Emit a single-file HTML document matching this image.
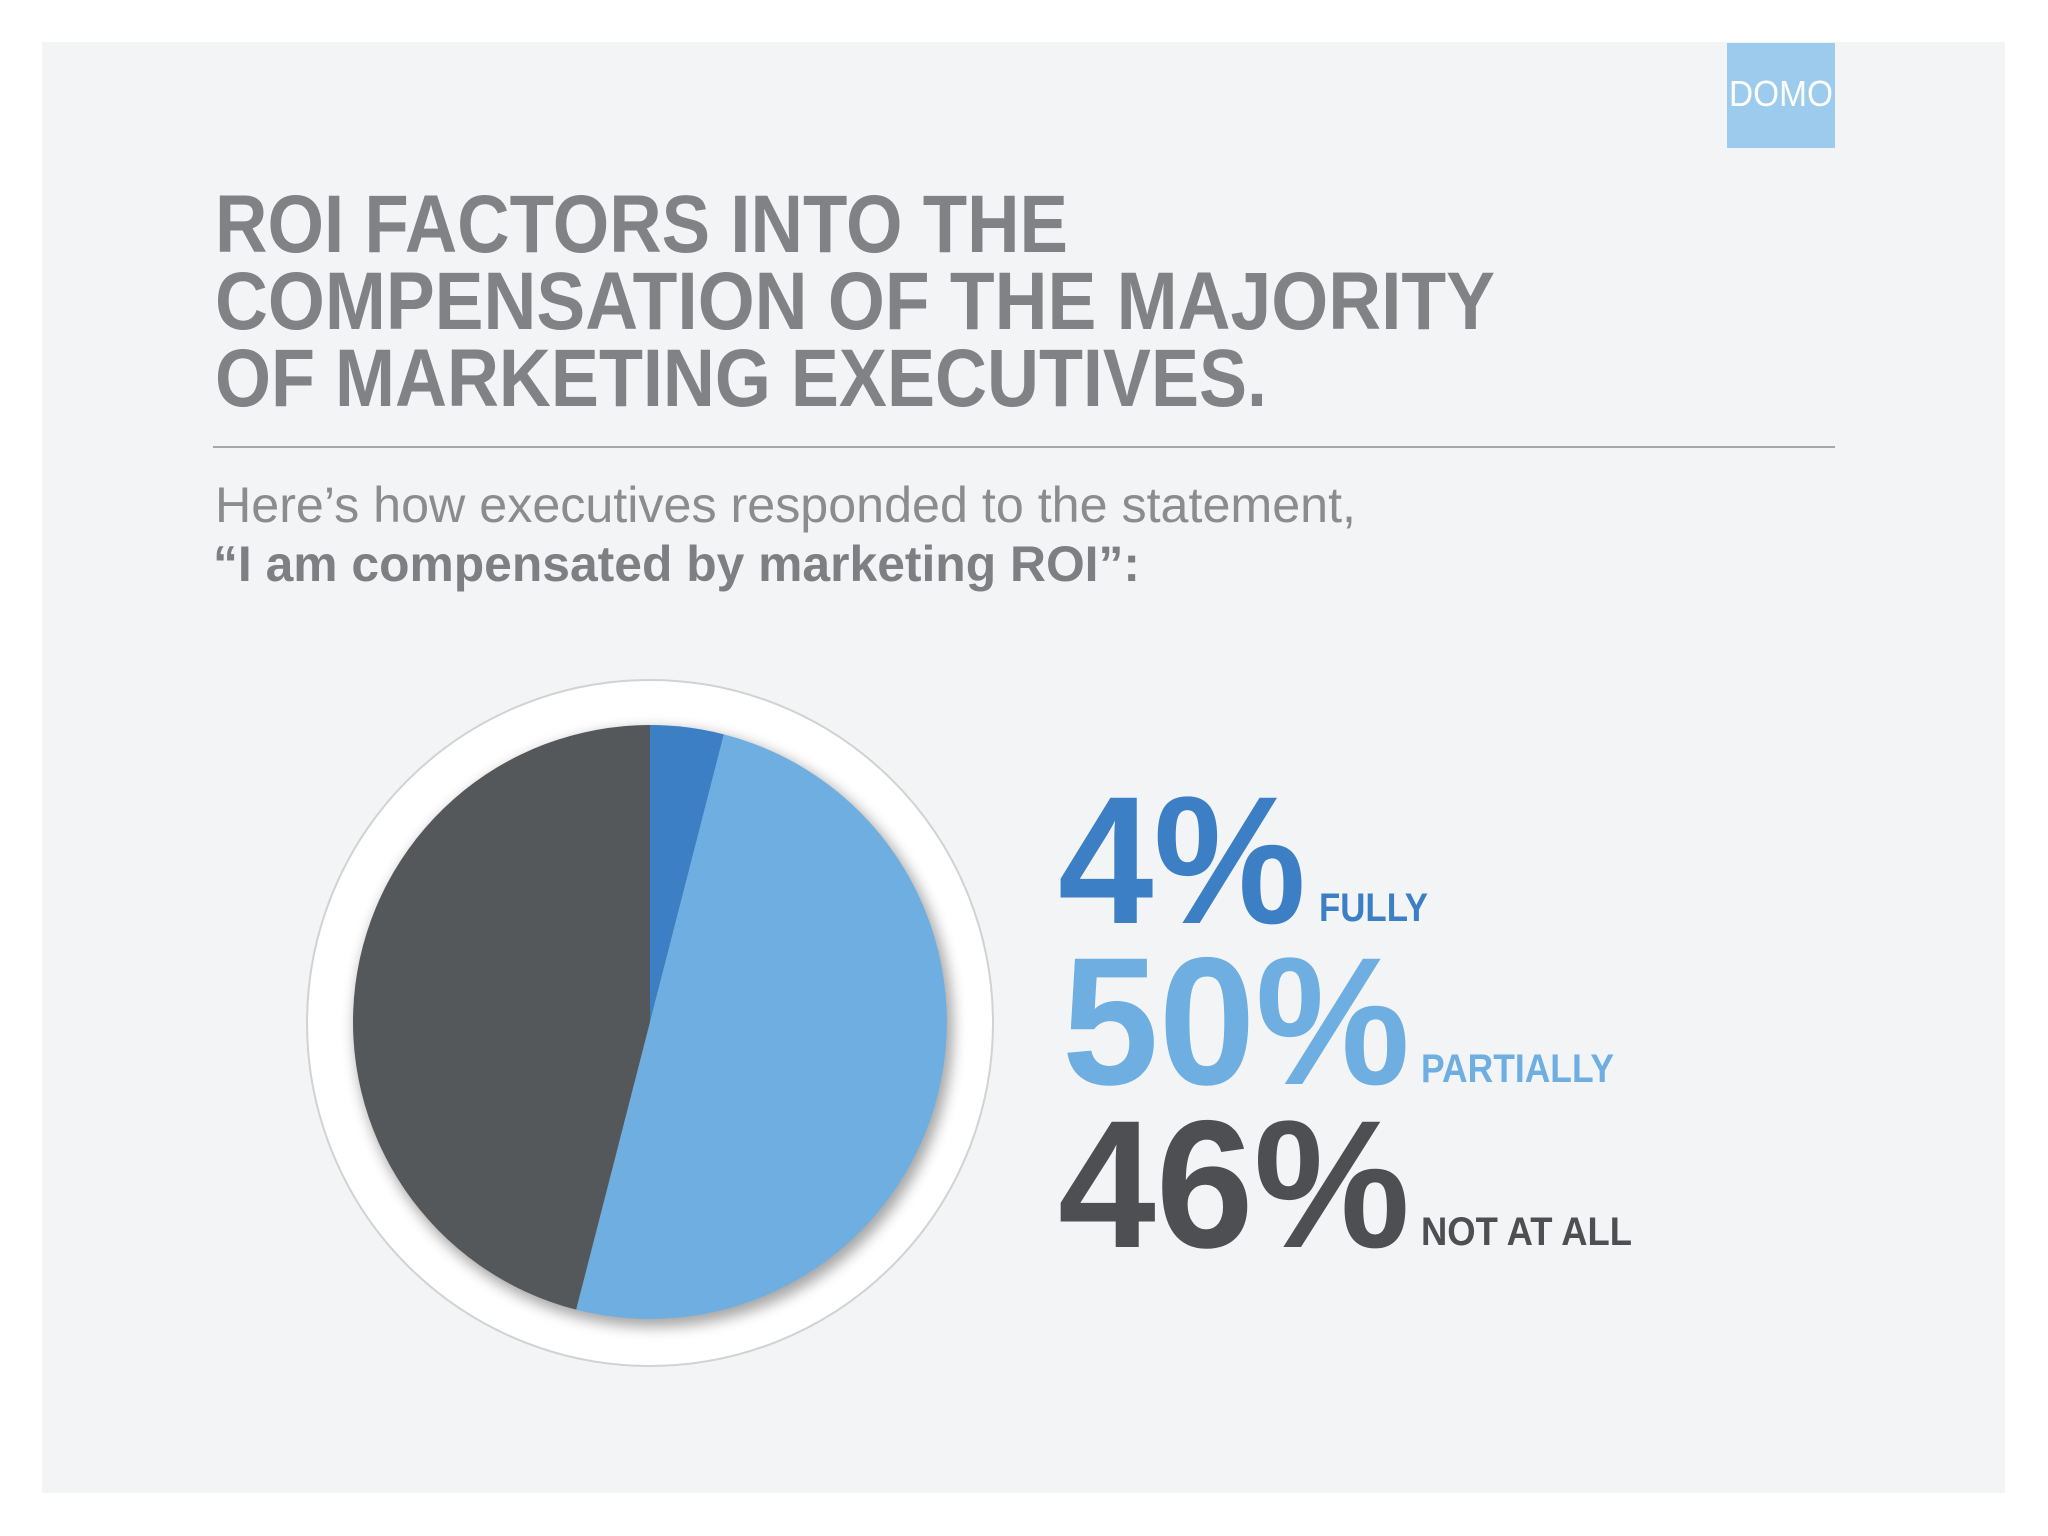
<!DOCTYPE html>
<html><head><meta charset="utf-8"><style>
html,body{margin:0;padding:0;background:#fff}
svg{display:block}
text{font-family:"Liberation Sans",sans-serif}
</style></head><body>
<svg id="chart" width="2048" height="1536" viewBox="0 0 2048 1536">
<defs>
<filter id="sh" x="-20%" y="-20%" width="140%" height="140%"><feGaussianBlur stdDeviation="7"/></filter>
</defs>
<rect x="0" y="0" width="2048" height="1536" fill="#ffffff"/>
<rect x="42" y="42" width="1963" height="1451" fill="#f3f4f5"/>
<rect x="1727" y="43" width="108" height="105" fill="#9ccbed"/>
<text x="1729" y="106" font-size="36" fill="#fff" textLength="104" lengthAdjust="spacingAndGlyphs">DOMO</text>
<g fill="#808285" font-weight="bold" font-size="82">
<text x="215" y="252" textLength="853" lengthAdjust="spacingAndGlyphs">ROI FACTORS INTO THE</text>
<text x="215" y="329" textLength="1280" lengthAdjust="spacingAndGlyphs">COMPENSATION OF THE MAJORITY</text>
<text x="215" y="406" textLength="1052" lengthAdjust="spacingAndGlyphs">OF MARKETING EXECUTIVES.</text>
</g>
<line x1="213" y1="447" x2="1835" y2="447" stroke="#a5a7a9" stroke-width="2"/>
<text x="215" y="522" font-size="50" fill="#8a8c8e" textLength="1141" lengthAdjust="spacingAndGlyphs">Here’s how executives responded to the statement,</text>
<text x="213" y="581" font-size="50" font-weight="bold" fill="#7d7f82" textLength="927" lengthAdjust="spacingAndGlyphs">“I am compensated by marketing ROI”:</text>
<circle cx="650" cy="1023" r="343" fill="#ffffff" stroke="#d0d2d4" stroke-width="2"/>
<circle cx="654" cy="1028" r="299" fill="#000" opacity="0.35" filter="url(#sh)"/>
<g id="pie"></g>
<g id="labels"></g>
</svg>
<script>
const categories = ["FULLY", "PARTIALLY", "NOT AT ALL"];
const values = [4, 50, 46];
const sliceColors = ["#3d7fc4", "#6eaee0", "#55585b"];
const NS = "http://www.w3.org/2000/svg";
const cx = 650, cy = 1022, r = 297;
const total = values.reduce((a,b)=>a+b,0);
function pt(frac){const a = frac*2*Math.PI - Math.PI/2; return [cx + r*Math.cos(a), cy + r*Math.sin(a)];}
let acc = 0;
const pie = document.getElementById('pie');
values.forEach((v,i)=>{
  const s = acc/total, e = (acc+v)/total; acc += v;
  const [x1,y1] = pt(s), [x2,y2] = pt(e);
  const large = (e-s) > 0.5 ? 1 : 0;
  const p = document.createElementNS(NS,'path');
  p.setAttribute('d',`M${cx},${cy} L${x1},${y1} A${r},${r} 0 ${large} 1 ${x2},${y2} Z`);
  p.setAttribute('fill', sliceColors[i]);
  
  
  pie.appendChild(p);
});
const baselines = [923, 1084, 1247];
const numX = [1058, 1062, 1058];
const numW = [248, 348, 352];
const labX = [1319, 1421, 1421];
const labW = [109, 193, 211];
const lg = document.getElementById('labels');
values.forEach((v,i)=>{
  const t = document.createElementNS(NS,'text');
  t.setAttribute('x', numX[i]); t.setAttribute('y', baselines[i]);
  t.setAttribute('font-size','182'); t.setAttribute('font-weight','bold');
  t.setAttribute('fill', sliceColors[i] === "#55585b" ? "#4d4f52" : sliceColors[i]);
  t.setAttribute('textLength', numW[i]); t.setAttribute('lengthAdjust','spacingAndGlyphs');
  t.textContent = v + '%';
  
  
  lg.appendChild(t);
  const l = document.createElementNS(NS,'text');
  l.setAttribute('x', labX[i]); l.setAttribute('y', baselines[i] - 2);
  l.setAttribute('font-size','40'); l.setAttribute('font-weight','bold');
  l.setAttribute('fill', sliceColors[i] === "#55585b" ? "#4d4f52" : sliceColors[i]);
  l.setAttribute('textLength', labW[i]); l.setAttribute('lengthAdjust','spacingAndGlyphs');
  l.textContent = categories[i];
  
  
  lg.appendChild(l);
});
</script>
</body></html>
